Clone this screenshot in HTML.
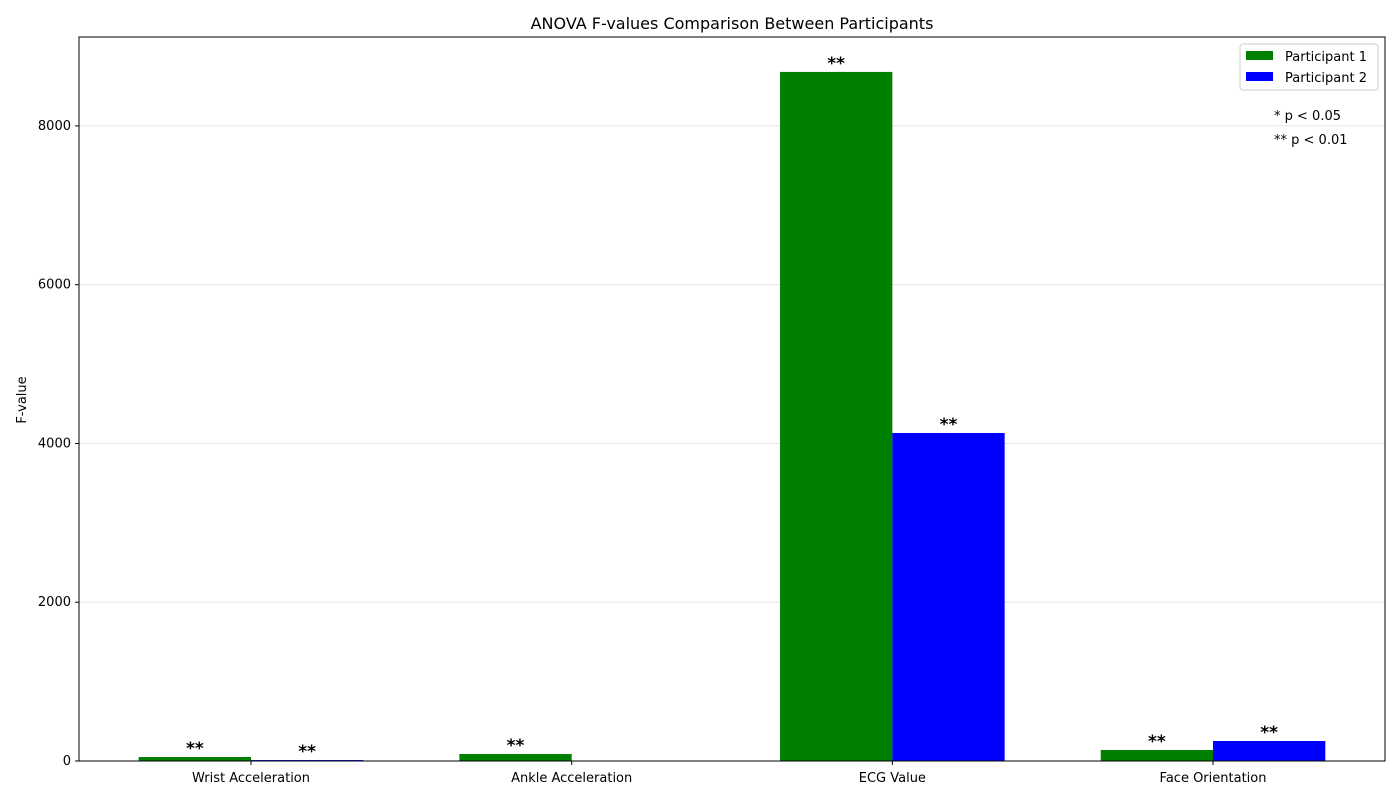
<!DOCTYPE html>
<html><head><meta charset="utf-8"><style>body{margin:0;background:#fff}svg{display:block;font-family:"DejaVu Sans","Liberation Sans",sans-serif}</style></head>
<body>
<svg id="chart" width="1400" height="800"></svg>
<script>
const categories=["Wrist Acceleration","Ankle Acceleration","ECG Value","Face Orientation"];
const p1Values=[50,88,8680,139];
const p2Values=[12,0,4132,252];
const p1Sig=["**","**","**","**"];
const p2Sig=["**","","**","**"];
const yTicks=[0,2000,4000,6000,8000];
const NS="http://www.w3.org/2000/svg";
const svg=document.getElementById('chart');
const L=79,R=1385,T=37,B=761,yMax=9120;
const y=v=>B-(v/yMax)*(B-T);
const step=(R-L)/ (categories.length-0.05*0+ (1306/321-4) + 4 - 4 + 0);
const cx=i=>251+i*320.67;
const bw=112.3;
function el(t,a,txt){const e=document.createElementNS(NS,t);for(const k in a)e.setAttribute(k,a[k]);if(txt!=null)e.textContent=txt;svg.appendChild(e);return e;}
let e;
yTicks.forEach(t=>{
e=el('line',{x1:L,x2:R,y1:y(t),y2:y(t),stroke:'#e5e5e5','stroke-width':1});

e=el('line',{x1:L-4,x2:L,y1:y(t),y2:y(t),stroke:'#000'});

e=el('text',{x:L-8,y:y(t)+4,'text-anchor':'end','font-size':13},t);

});
categories.forEach((c,i)=>{
const h1=B-y(p1Values[i]),h2=B-y(p2Values[i]);
e=el('rect',{x:cx(i)-bw,y:y(p1Values[i]),width:bw,height:h1,fill:'#008000'});

e=el('rect',{x:cx(i),y:y(p2Values[i]),width:bw,height:h2,fill:'#0000ff'});

if(p1Sig[i]){e=el('text',{x:cx(i)-bw/2,y:y(p1Values[i])-3,'text-anchor':'middle','font-size':17,'font-weight':'bold'},p1Sig[i]);
}
if(p2Sig[i]){e=el('text',{x:cx(i)+bw/2,y:y(p2Values[i])-3,'text-anchor':'middle','font-size':17,'font-weight':'bold'},p2Sig[i]);
}
e=el('line',{x1:cx(i),x2:cx(i),y1:B,y2:B+4,stroke:'#000'});

e=el('text',{x:cx(i),y:B+21,'text-anchor':'middle','font-size':13},c);

});
e=el('rect',{x:L,y:T,width:R-L,height:B-T,fill:'none',stroke:'#000','stroke-width':1});

e=el('text',{x:732,y:29,'text-anchor':'middle','font-size':16},'ANOVA F-values Comparison Between Participants');

e=el('text',{x:26,y:400,'text-anchor':'middle','font-size':13,transform:'rotate(-90 26 400)'},'F-value');

e=el('rect',{x:1240,y:44,width:138,height:46,rx:3,fill:'#fff',stroke:'#ccc'});

[['#008000','Participant 1',56],['#0000ff','Participant 2',77]].forEach(([col,lab,yy])=>{
e=el('rect',{x:1246,y:yy-5,width:27,height:9,fill:col});

e=el('text',{x:1285,y:yy+5,'font-size':13},lab);

});
e=el('text',{x:1274,y:120,'font-size':13},'* p < 0.05');

e=el('text',{x:1274,y:144,'font-size':13},'** p < 0.01');

</script>
</body></html>
